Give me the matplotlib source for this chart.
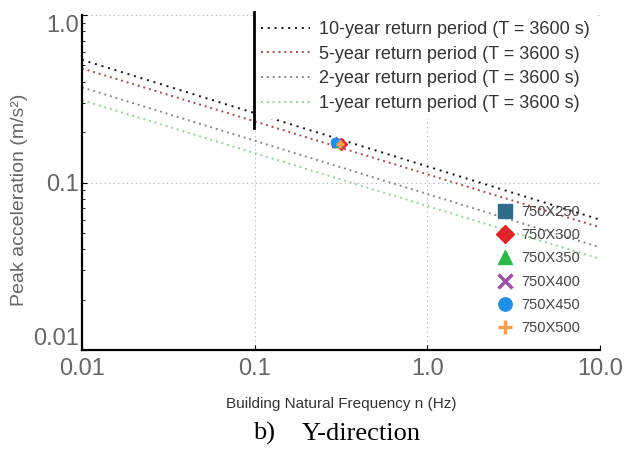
import matplotlib.pyplot as plt
from matplotlib.lines import Line2D

plt.rcParams["font.family"] = ["Liberation Sans", "DejaVu Sans"]

# comfort criteria curves (end points)
curve_labels = [
    "10-year return period (T = 3600 s)",
    "5-year return period (T = 3600 s)",
    "2-year return period (T = 3600 s)",
    "1-year return period (T = 3600 s)",
]
curve_freq = [0.01, 10.0]
curve_10yr = [0.54, 0.060]
curve_5yr = [0.48, 0.054]
curve_2yr = [0.37, 0.041]
curve_1yr = [0.31, 0.035]

# building sections and their responses
sections = ["750X250", "750X300", "750X350", "750X400", "750X450", "750X500"]
nat_freq = [0.295, 0.315, 0.305, 0.300, 0.290, 0.310]
peak_acc = [0.172, 0.170, 0.171, 0.172, 0.174, 0.170]

x_ticks = [0.01, 0.1, 1.0, 10.0]
x_ticklabels = ["0.01", "0.1", "1.0", "10.0"]
y_ticks = [0.01, 0.1, 1.0]
y_ticklabels = ["0.01", "0.1", "1.0"]


def main():
    fig = plt.figure(figsize=(6.24, 4.53), dpi=100)
    ax = fig.add_axes([82 / 624, 1 - 350 / 453, 518 / 624, 335 / 453])

    curves = [curve_10yr, curve_5yr, curve_2yr, curve_1yr]
    curve_colors = ["#111111", "#a05050", "#8a8a8a", "#9ccc9c"]
    curve_styles = [(0, (1, 2.5)), (0, (1, 2)), (0, (1, 2)), (0, (1, 2))]
    curve_lines = []
    for vals, lab, col, ls in zip(curves, curve_labels, curve_colors, curve_styles):
        ln, = ax.plot(curve_freq, vals, color=col, linestyle=ls, lw=1.4, label=lab)
        curve_lines.append(ln)

    # -----------------------------
    # building responses
    # -----------------------------
    markers = ["s", "D", "^", "x", "o", "+"]
    mcolors = ["#2e6a8a", "#e0252a", "#2eb84a", "#a04fa8", "#1e90e8", "#f0a050"]
    pts = []
    for f, a, lab, m, c in zip(nat_freq, peak_acc, sections, markers, mcolors):
        p, = ax.plot([f], [a], linestyle="none", marker=m, color=c,
                     markersize=6, markeredgewidth=2.5 if m in "x+" else 1,
                     label=lab)
        pts.append(p)

    ax.set_xscale("log")
    ax.set_yscale("log")
    ax.set_xlim(0.01, 10)
    ax.set_ylim(0.01, 1.0)

    ax.set_xticks(x_ticks)
    ax.set_xticklabels(x_ticklabels)
    ax.set_yticks(y_ticks)
    ax.set_yticklabels(y_ticklabels)
    ax.xaxis.set_minor_locator(plt.NullLocator())
    ax.tick_params(which="both", direction="in", labelsize=17,
                   labelcolor="#666666")
    ax.tick_params(axis="y", which="minor", length=2)
    ax.tick_params(axis="y", pad=2)
    ax.tick_params(axis="x", pad=6)
    ylabs = ax.get_yticklabels()
    ylabs[0].set_verticalalignment("bottom")
    ylabs[-1].set_verticalalignment("top")

    ax.grid(True, which="major", linestyle=(0, (1, 3)), color="#aaaaaa", lw=0.8)
    ax.spines["top"].set_visible(False)
    ax.spines["right"].set_visible(False)
    ax.spines["left"].set_linewidth(1.6)
    ax.spines["bottom"].set_linewidth(1.6)

    ax.set_ylabel("Peak acceleration (m/s²)", fontsize=14, color="#666666")
    ax.yaxis.set_label_coords(-0.104, 0.448)
    ax.set_xlabel("Building Natural Frequency n (Hz)", fontsize=11,
                  color="#333333", labelpad=12)

    leg1 = ax.legend(handles=curve_lines, loc="upper left",
                     bbox_to_anchor=(254 / 624, 1 - 14 / 453),
                     bbox_transform=fig.transFigure, fontsize=13,
                     frameon=True, fancybox=False, edgecolor="none",
                     facecolor="white", framealpha=1, handlelength=2.7,
                     handletextpad=0.5, labelspacing=0.42, borderpad=0.4,
                     borderaxespad=0, labelcolor="#333333")
    ax.add_artist(leg1)

    ax.legend(handles=pts, loc="upper left",
              bbox_to_anchor=(490 / 624, 1 - 199 / 453),
              bbox_transform=fig.transFigure, fontsize=10.5, frameon=False,
              markerscale=1.6, handlelength=1.2, handletextpad=0.55,
              labelspacing=0.64, borderaxespad=0, labelcolor="#444444")

    # left border of the curve legend box
    fig.canvas.draw()
    bb = leg1.get_window_extent().transformed(fig.transFigure.inverted())
    fig.add_artist(Line2D([bb.x0, bb.x0], [bb.y0 - 0.02, bb.y1 + 0.004],
                          transform=fig.transFigure, color="black", lw=2))

    # caption below the chart
    fig.text(253 / 624, 1 - 440 / 453, "b)", ha="left", va="baseline",
             fontsize=19, family="Liberation Serif")
    fig.text(302 / 624, 1 - 440 / 453, "Y-direction", ha="left", va="baseline",
             fontsize=19, family="Liberation Serif")

    fig.savefig("out.png", dpi=100)


if __name__ == "__main__":
    main()
